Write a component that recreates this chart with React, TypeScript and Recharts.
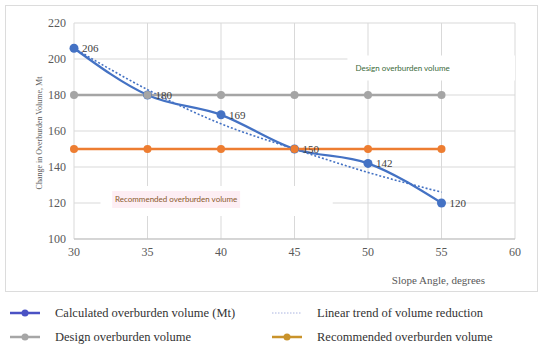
import { LineChart, Line, XAxis, YAxis, CartesianGrid, ReferenceArea, LabelList } from "recharts"

const angles = [30, 35, 40, 45, 50, 55]
const calculated = [206, 180, 169, 150, 142, 120]
const trend = [206, 183, 164, 150, 137, 126]
const design = [180, 180, 180, 180, 180, 180]
const recommended = [150, 150, 150, 150, 150, 150]
const xTicks = [30, 35, 40, 45, 50, 55, 60]
const yTicks = [100, 120, 140, 160, 180, 200, 220]

const data = angles.map((a, i) => ({
  angle: a,
  calculated: calculated[i],
  trend: trend[i],
  design: design[i],
  recommended: recommended[i],
}))

const serif = "'Liberation Serif', 'DejaVu Serif', serif"
const sans = "Lato, 'Open Sans', sans-serif"

const legendItems = [
  { name: "Calculated overburden volume (Mt)", color: "#4a52c4", dot: true, dashed: false },
  { name: "Linear trend of volume reduction", color: "#aab4e0", dot: false, dashed: true },
  { name: "Design overburden volume", color: "#a6a6a6", dot: true, dashed: false },
  { name: "Recommended overburden volume", color: "#c9932b", dot: true, dashed: false },
]

function LegendIcon({ color, dot, dashed }: { color: string; dot: boolean; dashed: boolean }) {
  return (
    <svg width={32} height={10} style={{ marginRight: 14 }}>
      <line
        x1={1}
        y1={5}
        x2={31}
        y2={5}
        stroke={color}
        strokeWidth={dashed ? 1 : 2.5}
        strokeDasharray={dashed ? "1.5 1.5" : undefined}
      />
      {dot && <circle cx={16} cy={5} r={3.5} fill={color} />}
    </svg>
  )
}

export default function App() {
  return (
    <div style={{ position: "absolute", left: 0, top: 0, width: 550, height: 345, background: "#fff" }}>
      <div
        style={{
          position: "absolute",
          left: 5,
          top: 5,
          width: 533,
          height: 287,
          border: "1px solid #dcdcdc",
          boxSizing: "border-box",
        }}
      />
      <div style={{ position: "absolute", left: 0, top: 0 }}>
        <LineChart width={550} height={300} data={data} margin={{ top: 23, right: 35, left: 14, bottom: 11 }}>
          <CartesianGrid stroke="#d9d9d9" />
          <XAxis
            dataKey="angle"
            type="number"
            domain={[30, 60]}
            ticks={xTicks}
            height={50}
            tickLine={false}
            stroke="#bfbfbf"
            tick={{ fill: "#595959", fontSize: 12, fontFamily: serif }}
            label={{
              value: "Slope Angle, degrees",
              position: "insideBottomRight",
              offset: 0,
              dx: -30,
              dy: -5,
              fill: "#595959",
              fontSize: 11,
              style: { fontFamily: serif },
            }}
          />
          <YAxis
            domain={[100, 220]}
            ticks={yTicks}
            width={60}
            tickLine={false}
            axisLine={false}
            tick={{ fill: "#595959", fontSize: 12, fontFamily: serif }}
            label={{
              value: "Change in Overburden Volume, Mt",
              angle: -90,
              position: "insideLeft",
              offset: 25,
              dy: 2,
              fill: "#595959",
              fontSize: 8,
              style: { textAnchor: "middle", fontFamily: serif },
            }}
          />
          <ReferenceArea
            x1={48.6}
            x2={60}
            y1={188}
            y2={202}
            fill="#ffffff"
            fillOpacity={1}
            stroke="none"
            label={{
              value: "Design overburden volume",
              position: "insideLeft",
              offset: 8,
              fill: "#3a6a3a",
              fontSize: 8,
              style: { fontFamily: sans },
            }}
          />
          <ReferenceArea x1={31.8} x2={47.6} y1={112.8} y2={129.4} fill="#ffffff" fillOpacity={1} stroke="none" />
          <ReferenceArea
            x1={32.6}
            x2={41.3}
            y1={117.2}
            y2={126.7}
            fill="#fdeef4"
            fillOpacity={1}
            stroke="none"
            label={{
              value: "Recommended overburden volume",
              position: "center",
              fill: "#8a5a2b",
              fontSize: 8,
              style: { fontFamily: sans },
            }}
          />
          <Line
            type="monotone"
            dataKey="calculated"
            stroke="#4472c4"
            strokeWidth={2.3}
            dot={{ r: 4.5, fill: "#4472c4", stroke: "none" }}
            activeDot={false}
            isAnimationActive={false}
          >
            <LabelList dataKey="calculated" position="right" offset={8} fill="#404040" fontSize={11} fontFamily={serif} />
          </Line>
          <Line
            type="monotone"
            dataKey="trend"
            stroke="#4472c4"
            strokeWidth={1.6}
            strokeDasharray="2 2"
            dot={false}
            activeDot={false}
            isAnimationActive={false}
          />
          <Line
            dataKey="design"
            stroke="#a5a5a5"
            strokeWidth={2.5}
            dot={{ r: 4, fill: "#a5a5a5", stroke: "none" }}
            activeDot={false}
            isAnimationActive={false}
          />
          <Line
            dataKey="recommended"
            stroke="#ed7d31"
            strokeWidth={2.5}
            dot={{ r: 4, fill: "#ed7d31", stroke: "none" }}
            activeDot={false}
            isAnimationActive={false}
          />
        </LineChart>
      </div>
      <div
        style={{
          position: "absolute",
          left: 9,
          top: 304,
          width: 540,
          display: "grid",
          gridTemplateColumns: "262px 278px",
          rowGap: 6,
          fontFamily: serif,
          fontSize: 12.5,
          color: "#333",
        }}
      >
        {legendItems.map((it) => (
          <div key={it.name} style={{ display: "flex", alignItems: "center", height: 18, whiteSpace: "nowrap" }}>
            <LegendIcon color={it.color} dot={it.dot} dashed={it.dashed} />
            <span>{it.name}</span>
          </div>
        ))}
      </div>
    </div>
  )
}
